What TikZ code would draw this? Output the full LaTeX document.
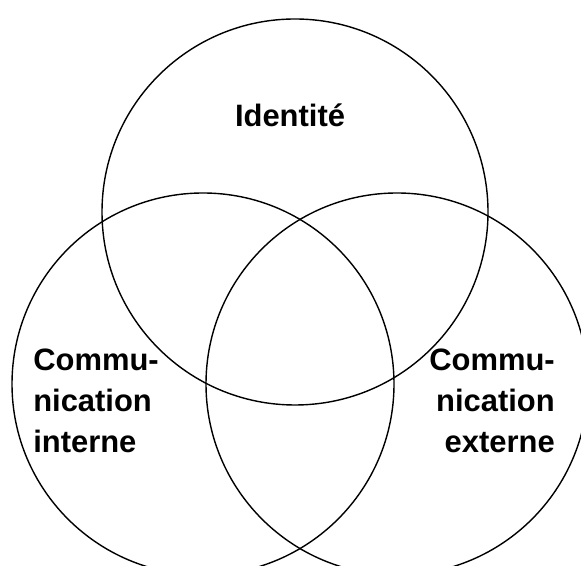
\documentclass[tikz,border=0pt]{standalone}
\usepackage{fontspec}
\setmainfont{Liberation Sans}

\tikzset{
	venn/.style={draw, line width=1pt},
	vennlabel/.style={font=\bfseries\fontsize{22}{29.5}\selectfont, inner sep=0pt}
}

\begin{document}
\begin{tikzpicture}
		\useasboundingbox (0, 0) rectangle (14.525, 14.15);
		% Circles:
		\draw[venn] (7.375, 8.85) circle (4.825);
		\draw[venn] (5.075, 4.55) circle (4.775);
		\draw[venn] (9.925, 4.55) circle (4.775);
		% Labels:
		\node[vennlabel, anchor=base] (identite) at (7.25, 10.975){Identité};
		\node[vennlabel, anchor=base west, align=left] (interne) at (0.825, 2.825){Commu-\\nication\\interne};
		\node[vennlabel, anchor=base east, align=right] (externe) at (13.875, 2.825){Commu-\\nication\\externe};
	\end{tikzpicture}
\end{document}
